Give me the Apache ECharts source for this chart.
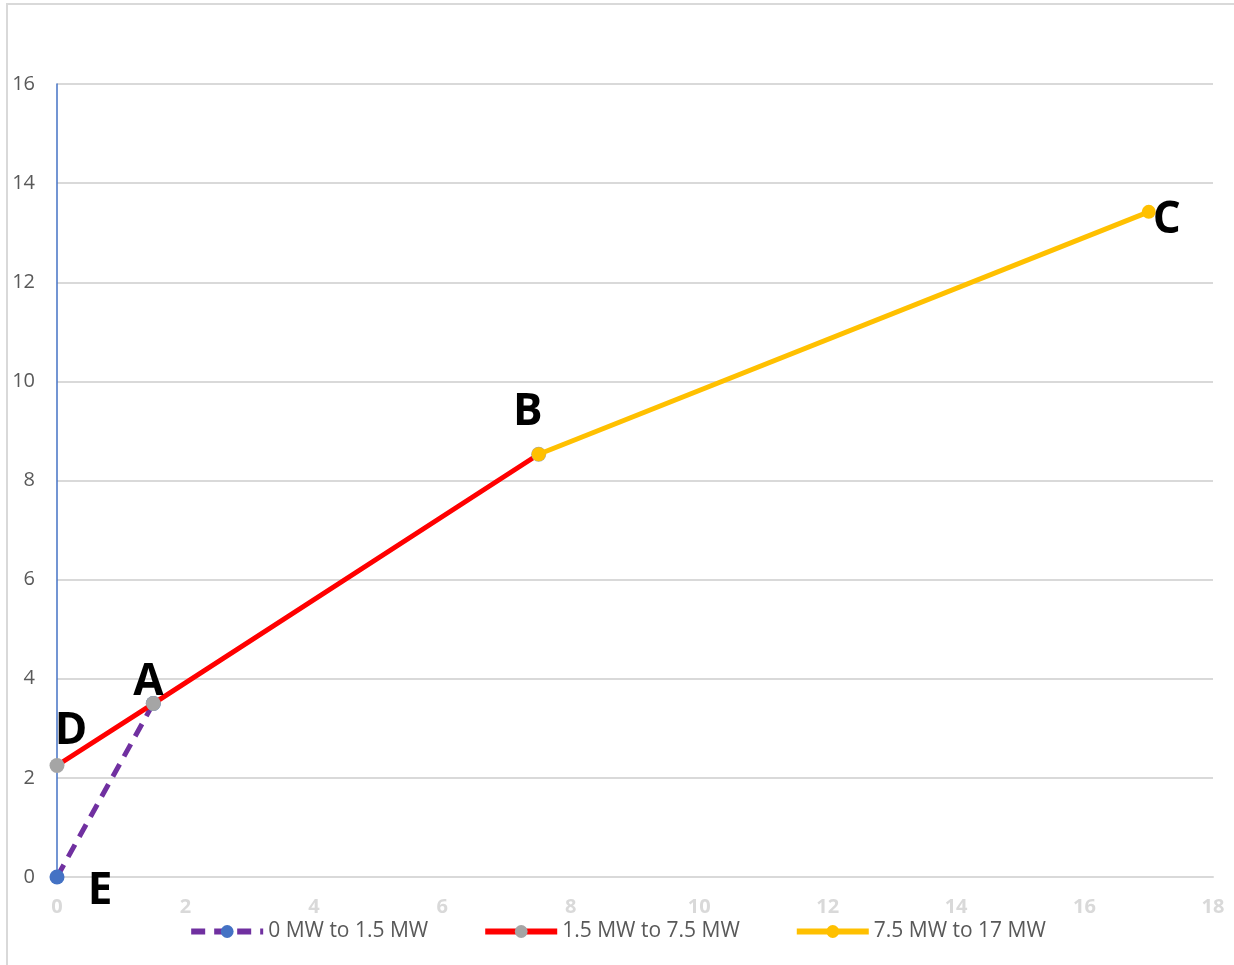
<!DOCTYPE html>
<html>
<head>
<meta charset="utf-8">
<script src="https://cdn.jsdelivr.net/npm/echarts@6/dist/echarts.min.js"></script>
<style>
  html, body { margin: 0; padding: 0; background: #fff; }
  #chart { width: 1234px; height: 965px; }
</style>
</head>
<body>
<div id="chart"></div>
<script>
// series names (legend)
const seriesNames = ['0 MW to 1.5 MW', '1.5 MW to 7.5 MW', '7.5 MW to 17 MW'];

// points [MW, value] for each segment
const seg1 = [[0, 0], [1.5, 3.5]];
const seg2 = [[0, 2.25], [1.5, 3.5], [7.5, 8.53]];
const seg3 = [[7.5, 8.53], [17, 13.42]];

// letter labels on the points
const labelE = 'E', labelA = 'A', labelD = 'D', labelB = 'B', labelC = 'C';

// axis ticks
const xMax = 18, xStep = 2;
const yMax = 16, yStep = 2;

const letterStyle = {
  show: true,
  position: 'inside',
  fontFamily: 'Open Sans',
  fontWeight: 'bold',
  fontSize: 44,
  color: '#000'
};

// put a letter on one point of a series
function tag(pt, text, offset) {
  return { value: pt, label: Object.assign({}, letterStyle, { formatter: text, offset: offset }) };
}

let chart = echarts.init(document.getElementById('chart'));

chart.setOption({
  animation: false,
  textStyle: { fontFamily: 'Open Sans' },
  graphic: [{
    type: 'rect',
    shape: { x: 7, y: 4, width: 1240, height: 980 },
    style: { fill: null, stroke: '#d9d9d9', lineWidth: 2 },
    silent: true
  }],
  grid: { left: 57, right: 21, top: 84, bottom: 88 },
  legend: {
    bottom: 18,
    left: 'center',
    itemWidth: 72,
    itemHeight: 16,
    itemGap: 54,
    lineStyle: { width: 6 },
    textStyle: { color: '#595959', fontSize: 21 },
    data: seriesNames
  },
  xAxis: {
    type: 'value',
    min: 0, max: xMax, interval: xStep,
    axisLine: { show: true, lineStyle: { color: '#d9d9d9', width: 2 } },
    axisTick: { show: false },
    splitLine: { show: false },
    axisLabel: { color: '#d9d9d9', fontSize: 20, fontWeight: 'bold', margin: 20 }
  },
  yAxis: {
    type: 'value',
    min: 0, max: yMax, interval: yStep,
    axisLine: { show: true, lineStyle: { color: '#4472c4', width: 1.5 } },
    axisTick: { show: false },
    splitLine: { lineStyle: { color: '#d9d9d9', width: 2 } },
    axisLabel: { color: '#595959', fontSize: 20, margin: 22 }
  },
  series: [
    {
      name: seriesNames[0],
      type: 'line',
      z: 3,
      symbol: 'circle',
      symbolSize: 15,
      itemStyle: { color: '#4472c4' },
      lineStyle: { color: '#7030a0', width: 5, type: [14, 9] },
      data: [tag(seg1[0], labelE, [43, 14]), seg1[1]]
    },
    {
      name: seriesNames[1],
      type: 'line',
      z: 4,
      symbol: 'circle',
      symbolSize: 15,
      itemStyle: { color: '#a5a5a5' },
      lineStyle: { color: '#ff0000', width: 5 },
      data: [tag(seg2[0], labelD, [14, -34]), tag(seg2[1], labelA, [-5, -21]), seg2[2]]
    },
    {
      name: seriesNames[2],
      type: 'line',
      z: 5,
      symbol: 'circle',
      symbolSize: 14,
      itemStyle: { color: '#ffc000' },
      lineStyle: { color: '#ffc000', width: 5 },
      data: [tag(seg3[0], labelB, [-11, -42]), tag(seg3[1], labelC, [18, 9])]
    }
  ]
});
</script>
</body>
</html>
